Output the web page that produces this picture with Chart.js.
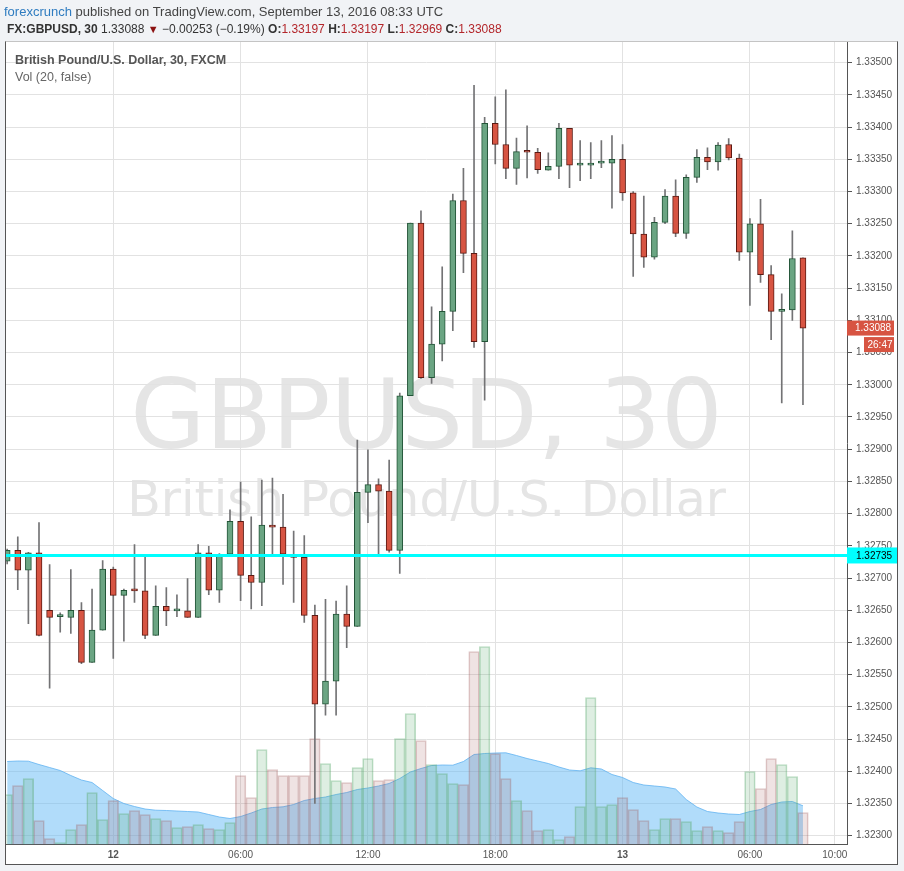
<!DOCTYPE html>
<html><head><meta charset="utf-8">
<script src="https://cdn.jsdelivr.net/npm/chart.js@4/dist/chart.umd.min.js"></script>
<style>
html,body{margin:0;padding:0;background:#f1f3f6;}
body{width:904px;height:871px;position:relative;overflow:hidden;font-family:"Liberation Sans",Arial,sans-serif;}
#frame{position:absolute;left:5px;top:41px;width:893px;height:824px;box-sizing:border-box;background:#fff;border:1px solid #555;border-top-color:#c4c4c4;}
.wm{position:absolute;left:0;width:853px;text-align:center;color:#e5e5e5;font-family:"DejaVu Sans",sans-serif;line-height:1;white-space:nowrap;}
#wm1{top:366px;font-size:97px;}
#wm2{top:475px;font-size:49px;}
#c{position:absolute;left:0;top:0;}
.t{position:absolute;white-space:nowrap;line-height:1;}
#h1{left:4px;top:5px;font-size:13px;color:#444;}
#h1 b{color:#2f7cc0;font-weight:normal;}
#h2{left:7px;top:23px;font-size:12px;color:#333;}
#h2 .r{color:#b3262b;}
#h2 .tri{color:#8b1111;font-size:11px;}
#p1{left:15px;top:54px;font-size:12.5px;font-weight:bold;color:#555;}
#p2{left:15px;top:71px;font-size:12.5px;color:#666;}
</style></head>
<body>
<div id="frame"></div>
<div class="wm" id="wm1">GBPUSD, 30</div>
<div class="wm" id="wm2">British Pound/U.S. Dollar</div>
<canvas id="c" width="904" height="871"></canvas>
<div class="t" id="h1"><b>forexcrunch</b> published on TradingView.com, September 13, 2016 08:33 UTC</div>
<div class="t" id="h2"><b>FX:GBPUSD, 30</b> 1.33088 <span class="tri">▼</span> −0.00253 (−0.19%) <b>O:</b><span class="r">1.33197</span> <b>H:</b><span class="r">1.33197</span> <b>L:</b><span class="r">1.32969</span> <b>C:</b><span class="r">1.33088</span></div>
<div class="t" id="p1">British Pound/U.S. Dollar, 30, FXCM</div>
<div class="t" id="p2">Vol (20, false)</div>
<script>
// 30-minute bars, first bar = Sep 11 19:00, last bar = Sep 13 08:30
const openP = [
 1.32726,1.32743,1.32712,1.32739,1.32650,1.32640,1.32639,1.32650,1.32569,1.32619,
 1.32714,1.32673,1.32682,1.32680,1.32611,1.32656,1.32649,1.32649,1.32639,1.32739,
 1.32681,1.32737,1.32788,1.32704,1.32693,1.32782,1.32779,1.32733,1.32732,1.32642,
 1.32504,1.32540,1.32644,1.32625,1.32833,1.32845,1.32835,1.32743,1.32983,1.33251,
 1.33011,1.33063,1.33114,1.33286,1.33204,1.33067,1.33406,1.33373,1.33336,1.33363,
 1.33361,1.33333,1.33339,1.33398,1.33341,1.33341,1.33344,1.33344,1.33350,1.33298,
 1.33234,1.33198,1.33252,1.33293,1.33235,1.33322,1.33353,1.33346,1.33373,1.33352,
 1.33206,1.33250,1.33171,1.33114,1.33116,1.33197];
const highP = [
 1.32745,1.32764,1.32740,1.32786,1.32721,1.32646,1.32713,1.32662,1.32683,1.32727,
 1.32717,1.32683,1.32752,1.32734,1.32688,1.32685,1.32674,1.32699,1.32752,1.32749,
 1.32738,1.32806,1.32849,1.32795,1.32852,1.32855,1.32830,1.32773,1.32766,1.32658,
 1.32667,1.32664,1.32688,1.32914,1.32899,1.32854,1.32883,1.32987,1.33251,1.33270,
 1.33121,1.33183,1.33296,1.33336,1.33465,1.33415,1.33447,1.33458,1.33383,1.33402,
 1.33367,1.33360,1.33406,1.33398,1.33379,1.33376,1.33379,1.33387,1.33373,1.33300,
 1.33293,1.33260,1.33303,1.33318,1.33326,1.33365,1.33368,1.33376,1.33382,1.33358,
 1.33258,1.33288,1.33185,1.33141,1.33239,1.33197];
const lowP = [
 1.32722,1.32682,1.32629,1.32610,1.32529,1.32616,1.32614,1.32567,1.32569,1.32619,
 1.32575,1.32602,1.32662,1.32606,1.32611,1.32626,1.32640,1.32639,1.32639,1.32674,
 1.32662,1.32737,1.32665,1.32652,1.32657,1.32737,1.32690,1.32662,1.32631,1.32350,
 1.32487,1.32487,1.32592,1.32625,1.32786,1.32737,1.32740,1.32707,1.32983,1.33010,
 1.33002,1.33037,1.33084,1.33174,1.33058,1.32976,1.33343,1.33320,1.33311,1.33321,
 1.33328,1.33333,1.33320,1.33306,1.33317,1.33320,1.33337,1.33274,1.33286,1.33168,
 1.33182,1.33195,1.33250,1.33230,1.33227,1.33314,1.33334,1.33333,1.33349,1.33193,
 1.33123,1.33159,1.33070,1.32972,1.33100,1.32969];
const closeP = [
 1.32743,1.32712,1.32739,1.32611,1.32639,1.32640,1.32650,1.32569,1.32619,1.32714,
 1.32673,1.32681,1.32680,1.32611,1.32656,1.32649,1.32649,1.32639,1.32739,1.32681,
 1.32736,1.32788,1.32704,1.32693,1.32782,1.32779,1.32737,1.32732,1.32642,1.32504,
 1.32540,1.32644,1.32625,1.32833,1.32845,1.32835,1.32743,1.32983,1.33251,1.33011,
 1.33063,1.33114,1.33286,1.33204,1.33067,1.33406,1.33373,1.33336,1.33362,1.33361,
 1.33334,1.33339,1.33398,1.33341,1.33342,1.33344,1.33345,1.33350,1.33298,1.33234,
 1.33198,1.33252,1.33293,1.33235,1.33322,1.33353,1.33346,1.33372,1.33352,1.33206,
 1.33250,1.33171,1.33114,1.33115,1.33196,1.33088];
const volume = [
 500,590,660,240,60,20,150,200,520,250,
 440,310,340,300,260,240,170,180,200,160,
 150,220,690,470,950,750,690,690,690,1060,
 810,640,620,770,860,640,650,1060,1310,1040,
 800,710,610,600,1930,1980,910,660,440,340,
 140,150,50,80,380,1470,380,400,470,350,
 240,150,260,260,230,140,180,140,120,230,
 730,560,860,800,680,320];
const volumeMA = [
 830,835,833,800,770,740,690,645,620,540,
 460,410,380,355,343,340,335,330,325,300,
 275,260,280,315,355,370,377,400,440,460,
 475,500,520,550,565,585,610,660,725,760,
 790,795,793,830,900,910,915,917,890,860,
 835,810,775,745,737,767,755,700,670,620,
 595,585,575,555,450,375,330,315,305,300,
 330,350,400,425,430,387];
const priceTicks = [1.323,1.3235,1.324,1.3245,1.325,1.3255,1.326,1.3265,1.327,1.3275,1.328,1.3285,1.329,1.3295,1.330,1.3305,1.331,1.3315,1.332,1.3325,1.333,1.3335,1.334,1.3345,1.335];
const timeTickIndex = [10,22,34,46,58,70,78];
const timeTickLabels = ['12','06:00','12:00','18:00','13','06:00','10:00'];
const dayTickIndex = [10,58];
const lastPrice = 1.33088;
const countdown = '26:47';
const levelPrice = 1.32735;

const xMin = -0.11, xMax = 79.15;
const yMin = 1.322863, yMax = 1.335321;
const volMax = 8025;

const up = openP.map((o,i)=>closeP[i] >= o);
const C_UP='#6ba583', C_DN='#d75442', B_UP='#225437', B_DN='#5b1a13';

const overlay = {
  id:'overlay',
  afterDraw(chart){
    const ctx = chart.ctx, y = chart.scales.y, a = chart.chartArea;
    ctx.save();
    ctx.font = '10px "Liberation Sans", Arial, sans-serif';
    ctx.textBaseline = 'middle';
    // horizontal level label
    let yy = y.getPixelForValue(levelPrice);
    ctx.fillStyle = '#00ffff';
    ctx.fillRect(a.right, yy-8, 50, 16);
    ctx.fillStyle = '#000';
    ctx.textAlign = 'left';
    ctx.fillText(levelPrice.toFixed(5), a.right+9, yy+0.5);
    // last price label
    yy = y.getPixelForValue(lastPrice);
    ctx.fillStyle = C_DN;
    ctx.fillRect(a.right, yy-7.5, 47, 15);
    ctx.fillStyle = '#fff';
    ctx.fillText(lastPrice.toFixed(5), a.right+8, yy+0.5);
    ctx.fillStyle = C_DN;
    ctx.fillRect(a.right+17, yy+9, 30, 15);
    ctx.fillStyle = '#fff';
    ctx.textAlign = 'right';
    ctx.fillText(countdown, a.right+45.5, yy+17);
    ctx.restore();
  }
};

new Chart(document.getElementById('c'), {
  type:'bar',
  data:{datasets:[
    {type:'line', data:[{x:xMin,y:levelPrice},{x:xMax,y:levelPrice}], borderColor:'#00ffff', borderWidth:3, pointRadius:0, yAxisID:'y', order:0},
    {data:openP.map((o,i)=>({x:i,y:[o,closeP[i]]})), backgroundColor:up.map(u=>u?C_UP:C_DN), borderColor:up.map(u=>u?B_UP:B_DN), borderWidth:1, borderSkipped:false, barThickness:6, minBarLength:2, grouped:false, yAxisID:'y', order:1},
    {data:lowP.map((l,i)=>({x:i,y:[l,highP[i]]})), backgroundColor:'#737375', barThickness:1, grouped:false, yAxisID:'y', order:2},
    {data:volume.map((v,i)=>({x:i,y:v})), backgroundColor:up.map(u=>u?'rgba(90,170,110,0.2)':'rgba(160,90,90,0.17)'), borderColor:up.map(u=>u?'rgba(90,170,110,0.4)':'rgba(160,90,90,0.32)'), borderWidth:1, barPercentage:1, categoryPercentage:1, grouped:false, yAxisID:'vol', order:3},
    {type:'line', data:volumeMA.map((v,i)=>({x:i,y:v})), yAxisID:'vol', fill:'origin', backgroundColor:'rgba(100,185,245,0.5)', borderColor:'rgba(90,175,240,0.75)', borderWidth:1, pointRadius:0, tension:0, order:4}
  ]},
  options:{
    responsive:false, animation:false, events:[],
    layout:{padding:{left:6,top:42,right:7,bottom:7}},
    plugins:{legend:{display:false}, tooltip:{enabled:false}},
    scales:{
      x:{type:'linear', min:xMin, max:xMax, offset:false,
         grid:{offset:false, color:'#e2e2e2', drawTicks:false},
         border:{color:'#555'},
         ticks:{color:'#555', padding:5, maxRotation:0, autoSkip:false,
           font:(c)=>({size:10, family:'"Liberation Sans", Arial, sans-serif', weight: (c.tick && dayTickIndex.includes(c.tick.value)) ? 'bold' : 'normal'}),
           callback:(v)=>timeTickLabels[timeTickIndex.indexOf(v)]},
         afterBuildTicks:(s)=>{s.ticks = timeTickIndex.map(v=>({value:v}));},
         afterFit:(s)=>{s.height = 19.5;}},
      y:{type:'linear', position:'right', min:yMin, max:yMax,
         grid:{color:'#e2e2e2', tickColor:'#555', tickLength:5},
         border:{color:'#555'},
         ticks:{color:'#555', padding:4, font:{size:10, family:'"Liberation Sans", Arial, sans-serif'}, callback:(v)=>v.toFixed(5)},
         afterBuildTicks:(s)=>{s.ticks = priceTicks.map(v=>({value:v}));},
         afterFit:(s)=>{s.width = 50;}},
      vol:{type:'linear', display:false, min:0, max:volMax, position:'left'}
    }
  },
  plugins:[overlay]
});
</script>
</body></html>
